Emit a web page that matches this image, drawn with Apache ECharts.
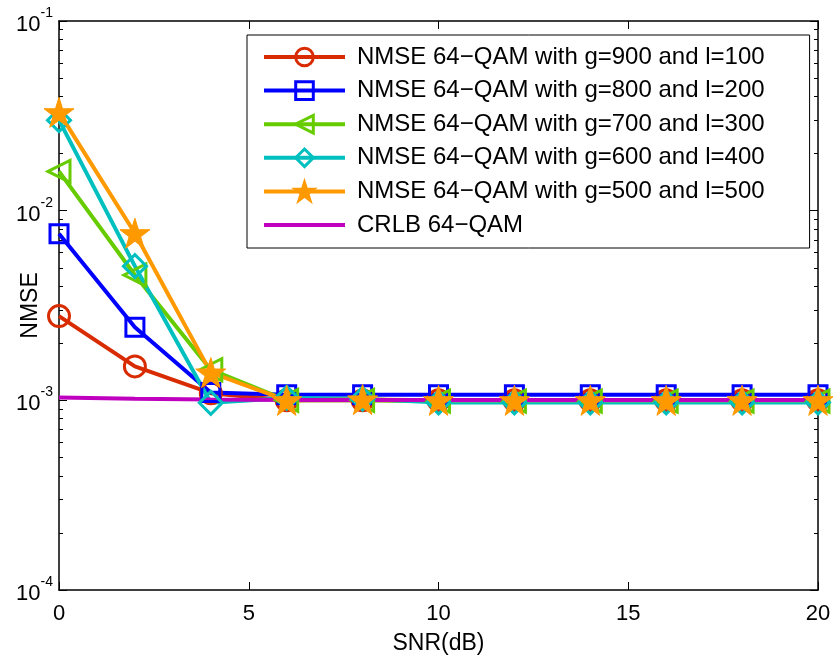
<!DOCTYPE html>
<html>
<head>
<meta charset="utf-8">
<script src="https://cdn.jsdelivr.net/npm/echarts@6/dist/echarts.min.js"></script>
<style>html,body{margin:0;padding:0;background:#fff;}#c{width:835px;height:659px;}</style>
</head>
<body>
<div id="c"></div>
<script>
const snr = [0, 2, 4, 6, 8, 10, 12, 14, 16, 18, 20];
const names = [
  'NMSE 64\u2212QAM with g=900 and l=100',
  'NMSE 64\u2212QAM with g=800 and l=200',
  'NMSE 64\u2212QAM with g=700 and l=300',
  'NMSE 64\u2212QAM with g=600 and l=400',
  'NMSE 64\u2212QAM with g=500 and l=500',
  'CRLB 64\u2212QAM'
];
const nmse900 = [2.78e-3, 1.51e-3, 1.09e-3, 1.0e-3, 1.0e-3, 1.0e-3, 1.0e-3, 1.0e-3, 1.0e-3, 1.0e-3, 1.0e-3];
const nmse800 = [7.55e-3, 2.43e-3, 1.1e-3, 1.07e-3, 1.07e-3, 1.07e-3, 1.07e-3, 1.07e-3, 1.07e-3, 1.07e-3, 1.07e-3];
const nmse700 = [1.61e-2, 4.58e-3, 1.45e-3, 1.0e-3, 1.0e-3, 0.99e-3, 0.99e-3, 0.99e-3, 0.99e-3, 0.99e-3, 0.99e-3];
const nmse600 = [3.0e-2, 5.1e-3, 0.97e-3, 1.03e-3, 1.02e-3, 0.975e-3, 0.975e-3, 0.975e-3, 0.975e-3, 0.975e-3, 0.975e-3];
const nmse500 = [3.3e-2, 7.6e-3, 1.4e-3, 1.0e-3, 1.01e-3, 1.0e-3, 1.0e-3, 1.0e-3, 1.0e-3, 1.0e-3, 1.0e-3];
const crlb = [1.035e-3, 1.02e-3, 1.01e-3, 1.005e-3, 1.005e-3, 1.005e-3, 1.005e-3, 1.005e-3, 1.005e-3, 1.005e-3, 1.005e-3];
const xTicks = [0, 5, 10, 15, 20];

const colors = ['#D92B00', '#0000FF', '#66CC00', '#00BFBF', '#FF9900', '#BF00BF'];
const starPath = 'path://M50,0 L61.8,36.2 L100,36.2 L69.1,58.6 L80.9,95.1 L50,72.7 L19.1,95.1 L30.9,58.6 L0,36.2 L38.2,36.2 Z';
const FONT = 'Liberation Sans, Arial, sans-serif';

function pairs(arr) { return snr.map((x, i) => [x, arr[i]]); }

function mk(name, data, color, symbol, size, rotate, filled) {
  return {
    name: name, type: 'line', data: pairs(data),
    symbol: symbol, symbolSize: size, symbolRotate: rotate || 0,
    showSymbol: symbol !== 'none',
    lineStyle: { color: color, width: 4 },
    itemStyle: filled ? { color: color, borderColor: color, borderWidth: 1 } : { color: 'rgba(255,255,255,0)', borderColor: color, borderWidth: 3 },
    emphasis: { disabled: true },
    animation: false
  };
}

const chart = echarts.init(document.getElementById('c'), null, { renderer: 'canvas' });
const supFmt = function (v) {
  const e = Math.round(Math.log10(v));
  return '{b|10}{s|' + e + '}';
};
const legendData = names.map((n, i) => i === 5
  ? { name: n, itemStyle: { color: 'rgba(0,0,0,0)', borderColor: 'rgba(0,0,0,0)' } }
  : { name: n });
const option = {
  backgroundColor: '#fff',
  animation: false,
  textStyle: { fontFamily: FONT, color: '#000' },
  grid: { left: 59, right: 17, top: 21, bottom: 69, outerBoundsMode: 'none', containLabel: false },
  legend: {
    orient: 'vertical', left: 247, top: 35,
    data: legendData,
    itemWidth: 81, itemHeight: 22, itemGap: 7.6,
    padding: [9, 45, 10, 15],
    borderColor: '#000', borderWidth: 1, backgroundColor: '#fff',
    lineStyle: { width: 4 },
    itemStyle: { borderWidth: 3 },
    textStyle: { fontFamily: FONT, fontSize: 24, color: '#000', lineHeight: 26, padding: [0, 0, 0, 7] },
    selectedMode: false
  },
  xAxis: [{
    type: 'value', min: 0, max: 20, interval: 5,
    name: 'SNR(dB)', nameLocation: 'middle', nameGap: 42, nameMoveOverlap: false,
    nameTextStyle: { fontFamily: FONT, fontSize: 23, color: '#000' },
    axisLine: { show: true, onZero: false, lineStyle: { color: '#000', width: 1.5 } },
    axisTick: { show: true, inside: true, length: 8, lineStyle: { color: '#000' } },
    axisLabel: { fontFamily: FONT, fontSize: 22, color: '#000', margin: 13 },
    splitLine: { show: false }
  }, {
    type: 'value', min: 0, max: 20, interval: 5, position: 'top',
    axisLine: { show: true, onZero: false, lineStyle: { color: '#000', width: 1.5 } },
    axisTick: { show: true, inside: true, length: 8, lineStyle: { color: '#000' } },
    axisLabel: { show: false }, splitLine: { show: false }
  }],
  yAxis: [{
    type: 'log', logBase: 10, min: 1e-4, max: 1e-1,
    name: 'NMSE', nameLocation: 'middle', nameGap: 17, nameMoveOverlap: false,
    nameTextStyle: { fontFamily: FONT, fontSize: 23, color: '#000' },
    axisLine: { show: true, onZero: false, lineStyle: { color: '#000', width: 1.5 } },
    axisTick: { show: true, inside: true, length: 8, lineStyle: { color: '#000' } },
    minorTick: { show: true, splitNumber: 9, length: 4, lineStyle: { color: '#000' } },
    axisLabel: {
      formatter: supFmt, margin: 6,
      rich: {
        b: { fontFamily: FONT, fontSize: 22, color: '#000', verticalAlign: 'bottom', lineHeight: 30 },
        s: { fontFamily: FONT, fontSize: 14, color: '#000', verticalAlign: 'top', lineHeight: 30 }
      }
    },
    splitLine: { show: false }
  }, {
    type: 'log', logBase: 10, min: 1e-4, max: 1e-1, position: 'right',
    axisLine: { show: true, onZero: false, lineStyle: { color: '#000', width: 1.5 } },
    axisTick: { show: true, inside: true, length: 8, lineStyle: { color: '#000' } },
    minorTick: { show: true, splitNumber: 9, length: 4, lineStyle: { color: '#000' } },
    axisLabel: { show: false }, splitLine: { show: false }
  }],
  series: [
    mk(names[0], nmse900, colors[0], 'circle', 21, 0, false),
    mk(names[1], nmse800, colors[1], 'rect', 18, 0, false),
    mk(names[2], nmse700, colors[2], 'triangle', 22, 90, false),
    mk(names[3], nmse600, colors[3], 'diamond', 23, 0, false),
    mk(names[4], nmse500, colors[4], starPath, 30, 0, true),
    mk(names[5], crlb, colors[5], 'none', 1, 0, false)
  ]
};
chart.setOption(option);
</script>
</body>
</html>
